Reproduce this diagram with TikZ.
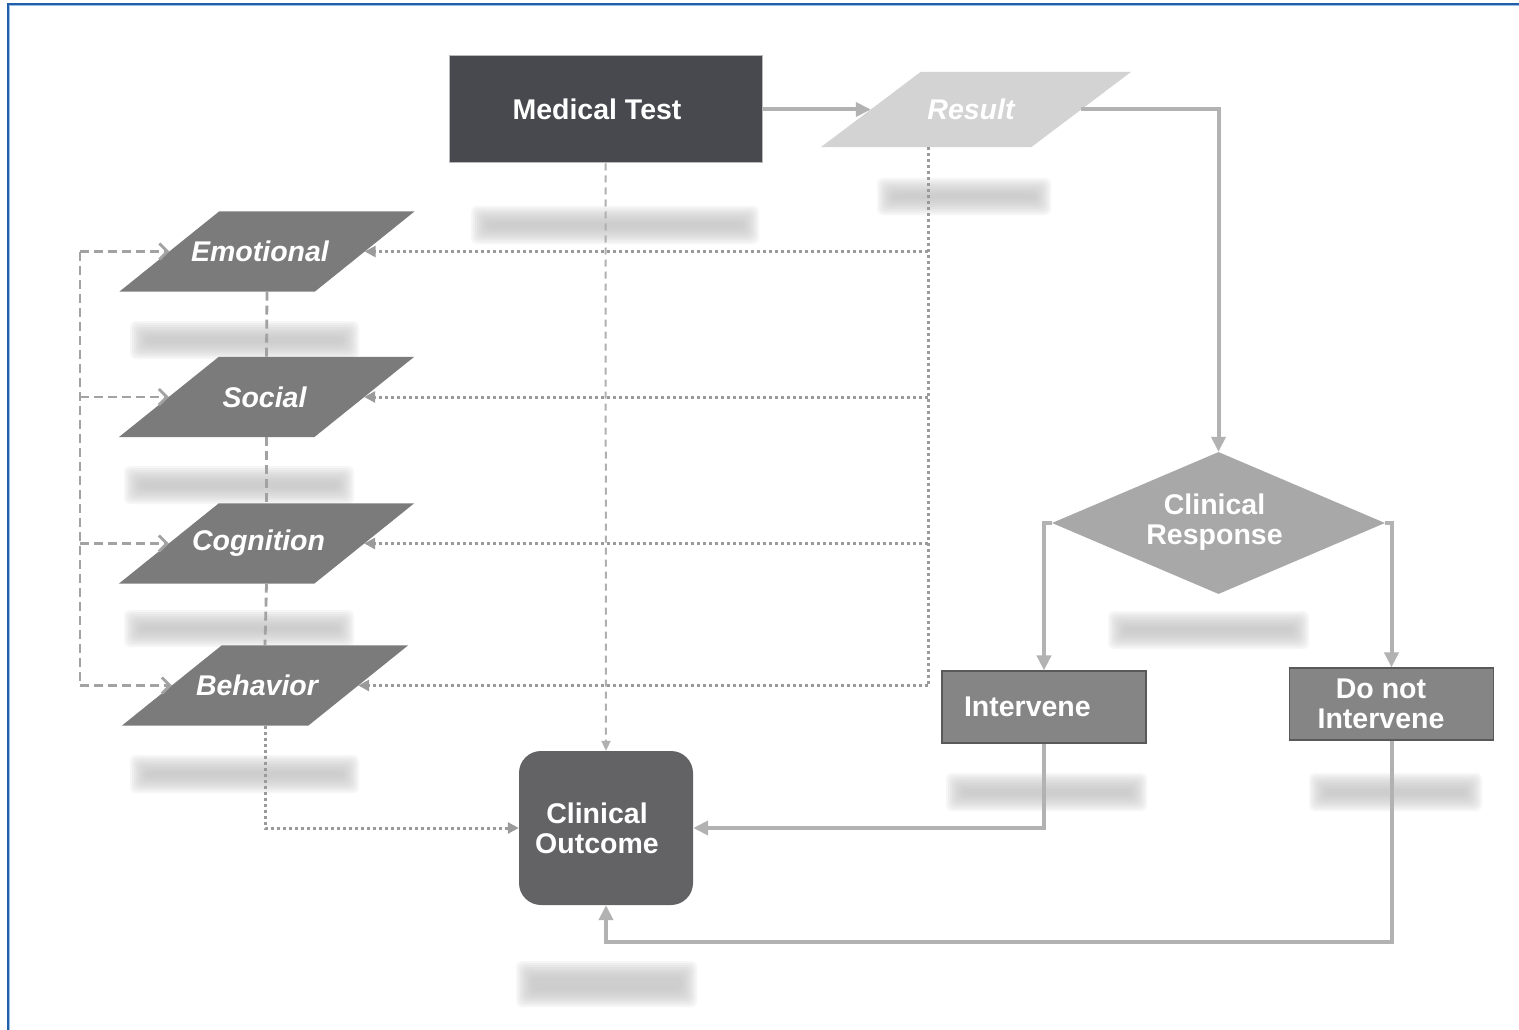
\documentclass[tikz,border=0pt]{standalone}
\usepackage{fontspec}
\setmainfont{Liberation Sans}
\usetikzlibrary{arrows.meta,shapes.geometric,calc}
\pgfdeclarelayer{bg}
\pgfsetlayers{bg,main}

\definecolor{frameblue}{HTML}{2160A8}
\definecolor{framelight}{HTML}{9CBDE6}
\definecolor{testfill}{HTML}{47494F}
\definecolor{resultfill}{HTML}{D3D3D3}
\definecolor{slantfill}{HTML}{7B7B7B}
\definecolor{decisionfill}{HTML}{A8A8A8}
\definecolor{actfill}{HTML}{858585}
\definecolor{outcomefill}{HTML}{636365}
\definecolor{flowline}{HTML}{B2B2B2}
\definecolor{dashcol}{HTML}{A2A2A2}
\definecolor{dotcol}{HTML}{9A9A9A}
\definecolor{barcol}{HTML}{C2C2C2}

% slanted (parallelogram) fill behind a rectangular node; the slant is 100 units
\newcommand\paraback[2]{%
  \begin{pgfonlayer}{bg}
    \fill[#2] ([xshift=-50pt]#1.south west) -- ([xshift=-50pt]#1.south east)
      -- ([xshift=50pt]#1.north east) -- ([xshift=50pt]#1.north west) -- cycle;
  \end{pgfonlayer}}

% soft grey placeholder bar
\newcommand\softbar[4]{%
  \begin{pgfonlayer}{bg}
    \foreach \k in {-7,-5,-3,-1,1,3,5,7,9}
      \fill[barcol, opacity=0.14, rounded corners=6pt]
        ({#1+\k},{#2+\k}) rectangle ({#3-\k},{#4-\k});
  \end{pgfonlayer}}

% text nudged to the left by half the given amount
\newcommand\lft[2]{\hspace*{-#1pt}#2}

\tikzset{
  lbl/.style={font=\fontsize{28.5}{30}\selectfont\bfseries, text=white, align=center},
  slantbox/.style={lbl, font=\fontsize{28.5}{30}\selectfont\bfseries\itshape,
    rectangle, inner sep=0pt, minimum width=195pt, minimum height=80pt},
  testbox/.style={lbl, rectangle, fill=testfill, draw=gray!55, line width=1pt,
    minimum width=313pt, minimum height=107pt},
  decision/.style={diamond, fill=decisionfill, inner sep=0pt,
    minimum width=333pt, minimum height=142pt, aspect=2.35},
  actbox/.style={lbl, rectangle, fill=actfill, draw=black!65, line width=1.2pt,
    minimum width=204pt, minimum height=72pt},
  outcome/.style={rectangle, rounded corners=22pt, fill=outcomefill,
    minimum width=174pt, minimum height=154pt},
  flow/.style={draw=flowline, line width=4pt, -{Triangle[length=15pt,width=14pt]}},
  testdash/.style={draw=dashcol!85, line width=2pt, dash pattern=on 7pt off 5pt,
    -{Triangle[length=10pt,width=9pt]}},
  leftdash/.style={draw=dashcol, line width=2.8pt, dash pattern=on 9pt off 5pt},
  barb/.style={-{Straight Barb[length=8pt,width=16pt]}},
  dotflow/.style={draw=dotcol, line width=3pt, dash pattern=on 3pt off 3pt},
  dottip/.style={-{Triangle[length=11pt,width=11pt]}},
}

\begin{document}
\begin{tikzpicture}[x=1pt,y=-1pt]
  \begin{pgfonlayer}{bg}
    \fill[white] (0,0) rectangle (1519,1030);
  \end{pgfonlayer}
  \useasboundingbox (0,0) rectangle (1519,1030);

  % frame
  \draw[frameblue, line width=2.2pt] (8,1034) -- (8,4) -- (1524,4);
  \draw[framelight, line width=0.9pt] (9.8,1034) -- (9.8,5.8) -- (1524,5.8);

  % placeholder bars
  \softbar{478}{213}{752}{237}
  \softbar{884}{185}{1044}{208}
  \softbar{137}{328}{352}{352}
  \softbar{131}{473}{347}{497}
  \softbar{131}{617}{347}{640}
  \softbar{137}{762}{352}{786}
  \softbar{1115}{618}{1302}{642}
  \softbar{953}{780}{1140}{804}
  \softbar{1316}{780}{1475}{804}
  \softbar{523}{968}{690}{1000}

  % nodes
  \node[testbox] (mt) at (605.5,109.5) {\lft{17}{Medical Test}};
  \node[slantbox, minimum width=210pt, minimum height=75pt] (res) at (976,109.5) {\lft{10}{Result}};
  \node[slantbox] (emo) at (267,251.5) {\lft{14}{Emotional}};
  \node[slantbox] (soc) at (266.5,397) {\lft{4}{Social}};
  \node[slantbox] (cog) at (266.5,543.5) {\lft{16}{Cognition}};
  \node[slantbox, minimum width=186pt] (beh) at (265,685.5) {\lft{16}{Behavior}};
  \node[decision] (cr) at (1218.5,523) {};
  \node[lbl] (cr-text) at (1214.5,522.5) {Clinical\\Response};
  \node[actbox, text width=160pt, inner xsep=22pt, align=left] (int) at (1044,707) {Intervene};
  \node[actbox] (dni) at (1391.5,704) {};
  \node[lbl] (dni-text) at (1381,703.5) {Do not\\Intervene};
  \node[outcome] (co) at (606,828) {};
  \node[lbl] (co-text) at (597,828) {Clinical\\Outcome};

  % slanted shapes
  \paraback{res}{resultfill}
  \paraback{emo}{slantfill}
  \paraback{soc}{slantfill}
  \paraback{cog}{slantfill}
  \paraback{beh}{slantfill}

  % main flow
  \draw[flow] (mt.east) -- (res.west);
  \draw[flow] (res.east) -| (cr.north);
  \draw[flow] (cr.west) -| (int.north);
  \draw[flow] (cr.east) -| (dni.north);
  \draw[flow] (int.south) |- (co.east);
  \coordinate (loopy) at (0,942);
  \draw[flow] (dni.south) -- (dni.south |- loopy) -| (co.south);

  % test to outcome
  \draw[testdash] (mt.south) -- (co.north);

  % left bracket linking the slanted boxes
  \coordinate (lx) at (80,0);
  \draw[leftdash] (emo.west -| lx) -- (beh.west -| lx);
  \foreach \n in {emo,soc,cog,beh}
    \draw[leftdash, barb] (\n.west -| lx) -- (\n.west);
  \draw[leftdash] (emo.south) -- (soc.north);
  \draw[leftdash] (soc.south) -- (cog.north);
  \draw[leftdash] (cog.south) -- (beh.north);

  % result feeding the slanted boxes
  \coordinate (rx) at (928,0);
  \draw[dotflow] (res.south -| rx) -- (beh.east -| rx);
  \foreach \n in {emo,soc,cog,beh}
    \draw[dotflow, dottip] (\n.east -| rx) -- (\n.east);

  % behaviour to outcome
  \draw[dotflow, dottip] (beh.south) |- (co.west);
\end{tikzpicture}
\end{document}
